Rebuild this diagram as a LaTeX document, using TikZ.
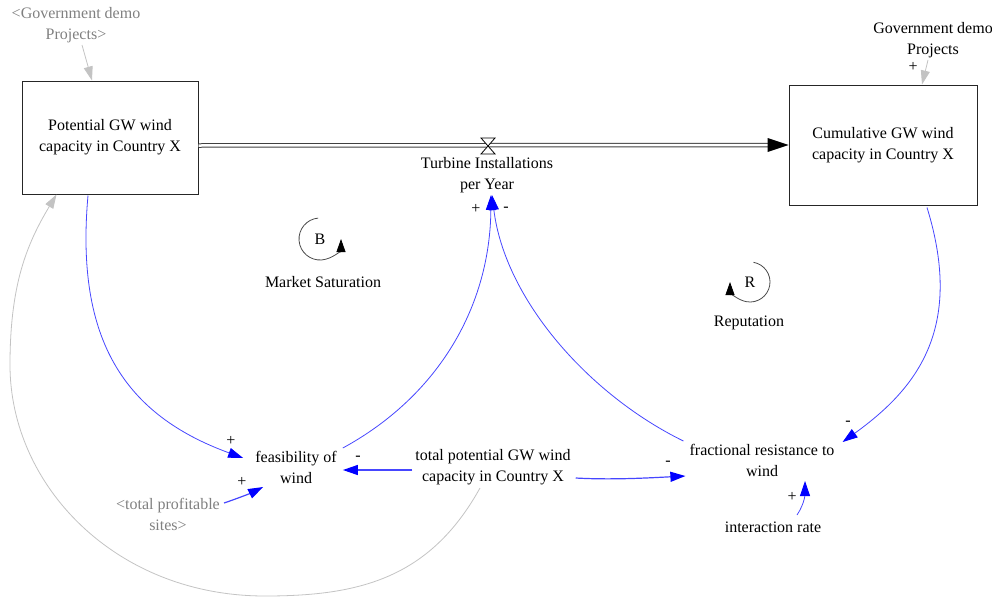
\documentclass[tikz,border=0pt]{standalone}
\usepackage{fontspec}
\setmainfont{Liberation Serif}
\usetikzlibrary{arrows.meta}
\definecolor{linkblue}{RGB}{70,70,255}
\definecolor{shadowtext}{RGB}{128,128,128}
\definecolor{shadowline}{RGB}{195,195,195}

\begin{document}
\begin{tikzpicture}[x=1pt,y=-1pt,
	every node/.style={inner sep=0pt,align=center,font=\fontsize{16}{21}\selectfont},
	stock/.style={draw=black!85,line width=1pt},
	shadow/.style={text=shadowtext},
	link/.style={draw=linkblue,line width=0.8pt,-{Triangle[length=15pt,width=10pt,color=blue]}},
	ghostlink/.style={draw=shadowline,line width=0.8pt,-{Triangle[length=14pt,width=9pt,color=shadowline]}},
	loopar/.style={draw=black!70,line width=0.8pt,-{Triangle[length=13pt,width=9pt,color=black]}}]
	\useasboundingbox (0,0) rectangle (992,597);
	% stocks and flow
		\node[stock,minimum width=176pt,minimum height=113pt] (P) at (110,137.5) {Potential GW wind\\capacity in Country X};
		\node[stock,minimum width=188pt,minimum height=120pt] (C) at (883,145) {Cumulative GW wind\\capacity in Country X};
		\draw[draw=black!75,line width=1pt,double=white,double distance=2.5pt] ([shift={(0,8)}]P.east) -- ([shift={(-18,0)}]C.west);
		\fill ([shift={(-21,-7)}]C.west) -- (C.west) -- ([shift={(-21,7)}]C.west) -- cycle;
		\coordinate (V) at (488,146);
		\filldraw[fill=white,line width=0.8pt] ([shift={(-7,-8)}]V) -- ([shift={(7,-8)}]V) -- ([shift={(-7,8)}]V) -- ([shift={(7,8)}]V) -- cycle;
		\node (T) at (487,175) {Turbine Installations\\per Year};
	% variables
		\node[shadow] (Gl) at (76,25) {<Government demo\\Projects>};
		\node (Gr) at (933,40) {Government demo\\Projects};
		\node (F) at (296,467) {feasibility of\\wind};
		\node (Tot) at (493,467) {total potential GW wind\\capacity in Country X};
		\node (Fr) at (762,460) {fractional resistance to\\wind};
		\node (Ir) at (773,527) {interaction rate};
		\node[shadow] (S) at (168,514) {<total profitable\\sites>};
	% loops
		\node (B) at (320,239) {B};
		\node (Bl) at (323,282) {Market Saturation};
		\draw[loopar] ([shift={(95:21pt)}]B.center) arc[start angle=95,end angle=360,radius=21pt];
		\node (R) at (750,282) {R};
		\node (Rl) at (749,323) {Reputation};
		\draw[loopar] ([shift={(80:20pt)}]R.center) arc[start angle=80,end angle=-180,radius=20pt];
	% links
		\draw[ghostlink] ([shift={(6,20)}]Gl.center) -- ([shift={(-18,0)}]P.north);
		\draw[ghostlink] ([shift={(-5,20)}]Gr.center) -- ([shift={(39,0)}]C.north);
		\draw[link] ([shift={(-22,1)}]P.south) .. controls +(-13,145) and +(-118,-43) .. ([shift={(-12,-9)}]F.west);
		\draw[link] ([shift={(6,-19)}]F.east) .. controls +(97,-53) and +(-1,110) .. ([shift={(4,20)}]T.center);
		\draw[link] ([shift={(-6,-19)}]Fr.west) .. controls +(-94,-46) and +(13,105) .. ([shift={(5,20)}]T.center);
		\draw[link] ([shift={(44,2)}]C.south) .. controls +(38,123) and +(72,-52) .. ([shift={(8,-18)}]Fr.east);
		\draw[link,line width=1.2pt] ([shift={(-3,3)}]Tot.west) -- ([shift={(6,3)}]F.east);
		\draw[link,line width=1.2pt] ([shift={(5,11)}]Tot.east) .. controls +(35,2) and +(-38,2) .. ([shift={(-4,16)}]Fr.west);
		\draw[link,line width=1.2pt] ([shift={(4,-11)}]S.east) .. controls +(12,-4) and +(-12,6) .. ([shift={(8,20)}]F.west);
		\draw[link] ([shift={(24,-12)}]Ir.center) .. controls +(8,-12) and +(0,12) .. ([shift={(43,21)}]Fr.center);
		\coordinate (b1) at (265,596);
		\coordinate (b2) at (10,365);
	%	\draw[red] (b1) circle (2pt) (b2) circle (2pt);
		\draw[ghostlink] ([shift={(-13,21)}]Tot.center) .. controls +(-50,90) and +(95,0) .. (b1) .. controls +(-150,0) and +(0,120) .. (b2) .. controls +(0,-80) and +(-30,50) .. ([shift={(35,0)}]P.south west);
	% polarities
		\node (s1) at (231,441) {+};
		\node (s2) at (242,482) {+};
		\node (s3) at (358,458) {-};
		\node (s4) at (476,209) {+};
		\node (s5) at (506,209) {-};
		\node (s6) at (668,463) {-};
		\node (s7) at (848,423) {-};
		\node (s8) at (792,497) {+};
		\node (s9) at (913,67) {+};
\end{tikzpicture}
\end{document}
